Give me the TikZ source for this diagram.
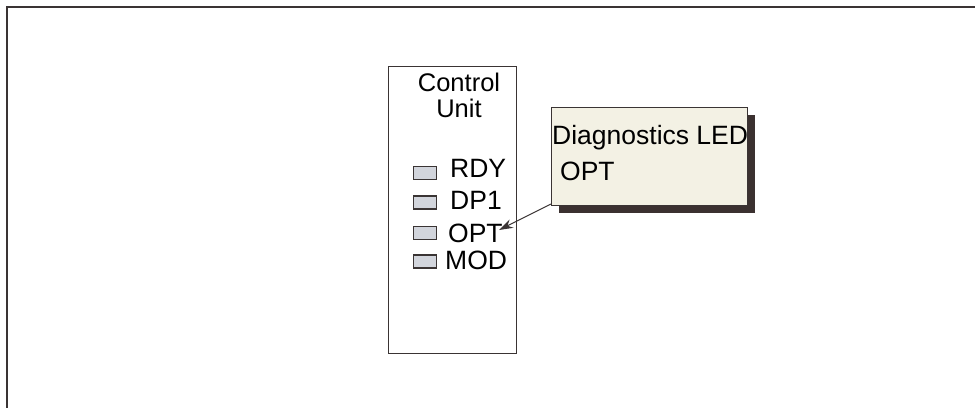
\documentclass[tikz,border=0pt]{standalone}
\usepackage{fontspec}
\setmainfont{Liberation Sans}
\usetikzlibrary{arrows.meta,calc}
\definecolor{lineC}{HTML}{3A3434}
\definecolor{ledC}{HTML}{D2D5DC}
\definecolor{noteC}{HTML}{F3F1E4}
\definecolor{shadowC}{HTML}{3B3130}
\tikzset{
  txt/.style={inner sep=0pt, anchor=base west, font=\fontsize{26.5}{28}\selectfont, text=black},
  led/.style={draw=lineC, line width=1.5pt, fill=ledC, minimum width=23pt, minimum height=13pt, inner sep=0pt},
  panel/.style={draw=lineC, line width=1.4pt, fill=white, inner sep=0pt},
  note/.style={draw=lineC, line width=1pt, fill=noteC, inner sep=0pt, minimum width=196pt, minimum height=98pt, anchor=north west},
  shadowbox/.style={fill=shadowC, draw=none, inner sep=0pt, minimum width=196pt, minimum height=98pt, anchor=north west},
}
\begin{document}
\begin{tikzpicture}[x=1pt,y=-1pt]
\useasboundingbox (0,0) rectangle (975,408);
% outer frame (only top and left visible)
\coordinate (fa) at (975,7);
\coordinate (fb) at (7,7);
\coordinate (fc) at (7,408);
\draw[lineC, line width=2pt] (fa) -- (fb) -- (fc);
% control unit panel
\node[panel, minimum width=128pt, minimum height=287pt, anchor=north west] (cu) at (388,66) {};
\node[txt, anchor=north, align=center, font=\fontsize{25.5}{25.5}\selectfont] (cutitle) at (459,73) {Control\\Unit};
% LEDs
\node[led] (l1) at (425,173) {};
\node[led] (l2) at (425,202.5) {};
\node[led] (l3) at (425,233) {};
\node[led] (l4) at (425,261.5) {};
\node[txt] (t1) at (450,177) {RDY};
\node[txt] (t2) at (450,209) {DP1};
\node[txt] (t3) at (448,242) {OPT};
\node[txt] (t4) at (445,269) {MOD};
% callout
\node[shadowbox] (sh) at (559,115) {};
\node[note] (diag) at (551,107) {};
\node[txt] (d1) at (552,144) {Diagnostics LED};
\node[txt] (d2) at (560,180) {OPT};
\coordinate (tip) at (499,230);
\draw[lineC, line width=1pt, -{Stealth[length=14pt,width=9pt]}] ($(diag.south west)+(0,-2)$) -- (tip);
\end{tikzpicture}
\end{document}
